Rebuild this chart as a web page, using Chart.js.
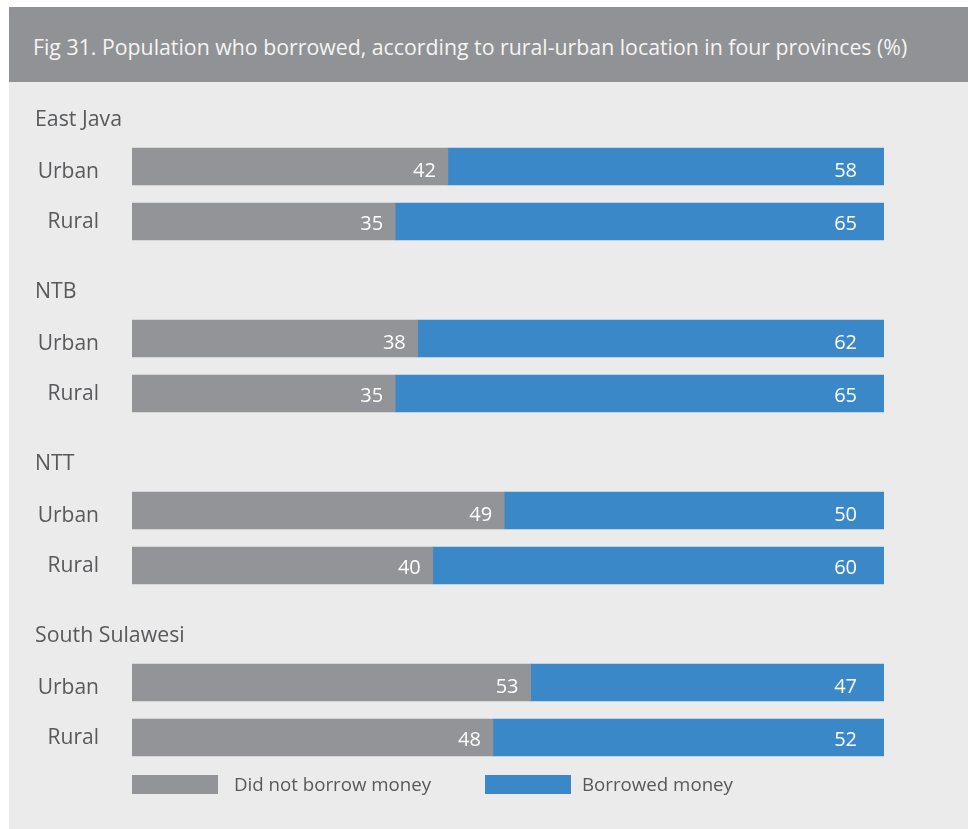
<!DOCTYPE html>
<html>
<head>
<meta charset="utf-8">
<script src="https://cdn.jsdelivr.net/npm/chart.js@4"></script>
<style>
    body { margin: 0; background: #fff; font-family: "Open Sans", sans-serif; }
    .header {
        position: absolute; left: 9px; top: 7px; width: 959px; height: 75px;
        background: #919295; color: #f4f4f4; font-size: 21.3px;
        line-height: 79px; padding-left: 24px; box-sizing: border-box;
    }
    .panel { position: absolute; left: 9px; top: 82px; width: 959px; height: 747px; background: #ebebeb; }
</style>
</head>
<body>
<div class="header">Fig 31. Population who borrowed, according to rural-urban location in four provinces (%)</div>
<div class="panel"><canvas id="barChart" width="959" height="747"></canvas></div>
<script>
const provinces = ['East Java', 'NTB', 'NTT', 'South Sulawesi'];
const locations = ['Urban', 'Rural'];
const notBorrowed = [42, 35, 38, 35, 49, 40, 53, 48];
const borrowed = [58, 65, 62, 65, 50, 60, 47, 52];
const seriesNames = ['Did not borrow money', 'Borrowed money'];

const grey = '#939497';
const blue = '#3a88c8';
const textColor = '#58595b';

// row layout in "row units": one unit between urban and rural
const groupStep = 172 / 55;
function rowPos(i) {
    return Math.floor(i / 2) * groupStep + (i % 2);
}

function share(a, b, i) {
    return a[i] / (a[i] + b[i]) * 100;
}

const greyData = notBorrowed.map((v, i) => ({ x: share(notBorrowed, borrowed, i), y: rowPos(i) }));
const blueData = borrowed.map((v, i) => ({ x: share(borrowed, notBorrowed, i), y: rowPos(i) }));

const labelsPlugin = {
    id: 'labels',
    afterDatasetsDraw(chart) {
        const c = chart.ctx;
        const yScale = chart.scales.y;
        const raw = [notBorrowed, borrowed];
        c.save();
        c.textBaseline = 'alphabetic';

        // values inside the bars
        c.font = '20px "Open Sans"';
        c.fillStyle = '#ffffff';
        c.textAlign = 'right';
        chart.data.datasets.forEach((ds, d) => {
            chart.getDatasetMeta(d).data.forEach((bar, i) => {
                c.fillText(raw[d][i], bar.x - (d === 0 ? 12 : 27), bar.y + (i % 2 ? 8.5 : 10));
            });
        });

        // row names
        c.font = '21px "Open Sans"';
        c.fillStyle = textColor;
        notBorrowed.forEach((v, i) => {
            c.fillText(locations[i % 2], 90, yScale.getPixelForValue(rowPos(i)) + (i % 2 ? 6.5 : 11));
        });

        // province titles
        c.font = '21.3px "Open Sans"';
        c.textAlign = 'left';
        provinces.forEach((p, g) => {
            c.fillText(p, 26, yScale.getPixelForValue(g * groupStep) - 41);
        });

        // legend
        c.font = '18.7px "Open Sans"';
        c.textBaseline = 'middle';
        const legendY = 702;
        const legendX = [123, 476];
        chart.data.datasets.forEach((ds, d) => {
            c.fillStyle = ds.backgroundColor;
            c.fillRect(legendX[d], legendY - 9, 86, 19);
            c.fillStyle = textColor;
            c.fillText(ds.label, legendX[d] + 102 - (d === 1 ? 5 : 0), legendY + 1.5);
        });
        c.restore();
    }
};

new Chart(document.getElementById('barChart'), {
    type: 'bar',
    data: {
        datasets: [
            { label: seriesNames[0], data: greyData, backgroundColor: grey, barThickness: 37 },
            { label: seriesNames[1], data: blueData, backgroundColor: blue, barThickness: 37 }
        ]
    },
    options: {
        indexAxis: 'y',
        responsive: false,
        animation: false,
        layout: { padding: { left: 123, right: 84, top: 2, bottom: 57.5 } },
        plugins: {
            legend: { display: false },
            tooltip: { enabled: false }
        },
        scales: {
            x: { type: 'linear', min: 0, max: 100, stacked: true, display: false },
            y: { type: 'linear', reverse: true, min: -1.5, max: 11, offset: false, stacked: true, display: false }
        }
    },
    plugins: [labelsPlugin]
});
</script>
</body>
</html>
